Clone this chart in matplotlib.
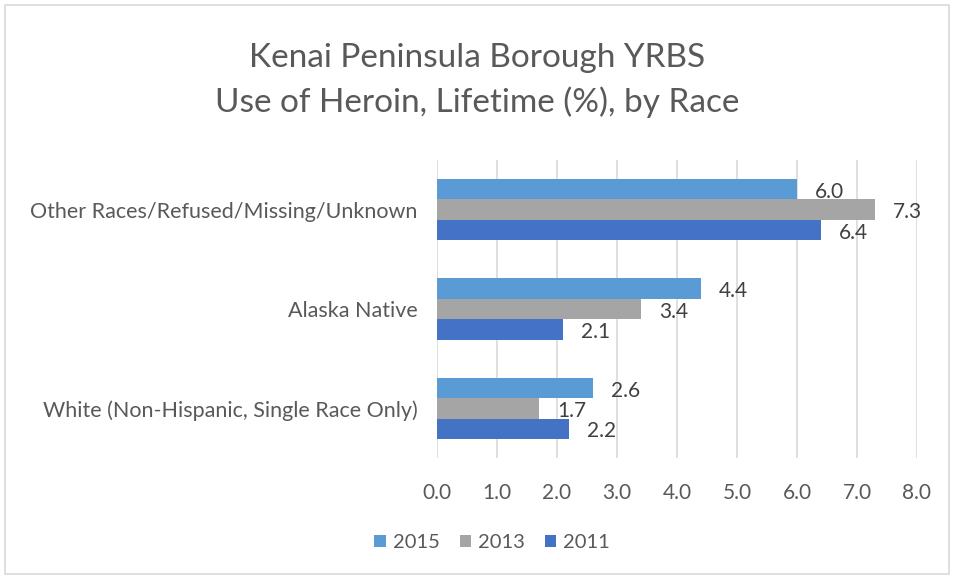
import matplotlib
matplotlib.use("Agg")
import matplotlib.pyplot as plt
from matplotlib.patches import Rectangle
import numpy as np

categories = ["Other Races/Refused/Missing/Unknown", "Alaska Native",
              "White (Non-Hispanic, Single Race Only)"]
series_names = ["2015", "2013", "2011"]
values_2015 = [6.0, 4.4, 2.6]
values_2013 = [7.3, 3.4, 1.7]
values_2011 = [6.4, 2.1, 2.2]
colors = ["#5B9BD5", "#A5A5A5", "#4472C4"]
xticks = [0, 1, 2, 3, 4, 5, 6, 7, 8]

plt.rcParams['font.family'] = ['Lato', 'DejaVu Sans']

fig = plt.figure(figsize=(9.54, 5.77), dpi=100)
ax = fig.add_axes([437/954, 1-458/577, 480/954, 298/577])

series = [values_2015, values_2013, values_2011]
y = np.arange(len(categories))
h = 0.205
for i, (name, vals, c) in enumerate(zip(series_names, series, colors)):
    pos = y + (i - 1) * h
    ax.barh(pos, vals, height=h, color=c, label=name, zorder=3)
    for p, v in zip(pos, vals):
        ax.annotate(f"{v:.1f}", xy=(v, p), xytext=(13, -2), textcoords="offset points",
                    ha="left", va="center", fontsize=15, color="#404040")

ax.set_xlim(0, 8)
ax.set_ylim(len(categories) - 0.5, -0.5)
ax.set_xticks(xticks)
ax.set_xticklabels([f"{t:.1f}" for t in xticks], fontsize=15, color="#595959")
ax.set_yticks(y)
ax.set_yticklabels(categories, fontsize=15.5, color="#595959")
ax.tick_params(axis='both', length=0)
ax.tick_params(axis='x', pad=18)
ax.tick_params(axis='y', pad=14)
for s in ax.spines.values():
    s.set_visible(False)
ax.xaxis.grid(True, color="#D9D9D9", linewidth=1.2, zorder=0)
ax.set_axisbelow(True)

fig.text(0.5, 1-58/577, "Kenai Peninsula Borough YRBS", ha="center", va="center",
         fontsize=24, color="#595959")
fig.text(0.5, 1-102/577, "Use of Heroin, Lifetime (%), by Race", ha="center", va="center",
         fontsize=24, color="#595959")

handles, labels = ax.get_legend_handles_labels()
leg = fig.legend(handles, labels, loc="center", bbox_to_anchor=(492/954, 1-543/577), ncol=3,
                 frameon=False, fontsize=14.5, handlelength=0.55, handleheight=0.55,
                 handletextpad=0.35, columnspacing=1.0)
for t in leg.get_texts():
    t.set_color("#595959")

fig.patches.append(Rectangle((5/954, 3/577), 944/954, 569/577, transform=fig.transFigure,
                             fill=False, edgecolor="#D9D9D9", linewidth=1.2))

fig.savefig("out.png", dpi=100)
